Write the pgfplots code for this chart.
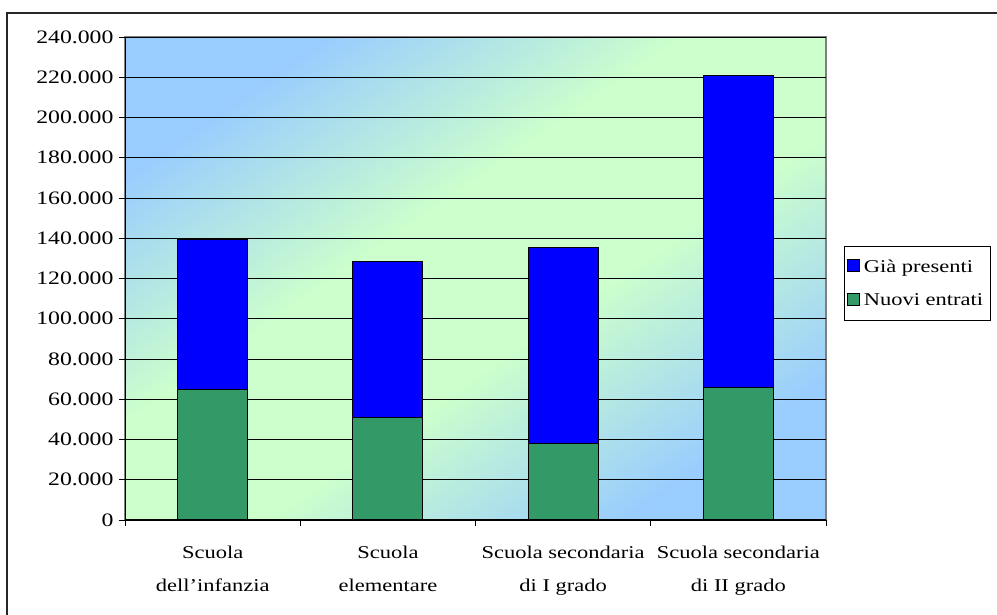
\documentclass[border=0pt]{standalone}
\usepackage{fontspec}
\setmainfont[FakeStretch=1.25]{Liberation Serif}
\usepackage{pgfplots}
\pgfplotsset{compat=1.18}
\definecolor{bgblue}{HTML}{99CCFF}
\definecolor{bggreen}{HTML}{CCFFCC}
\definecolor{barblue}{HTML}{0000FF}
\definecolor{bargreen}{HTML}{339966}
\pgfdeclareverticalshading{bgshade}{100bp}{color(0bp)=(bgblue); color(25bp)=(bgblue); color(43bp)=(bggreen); color(57bp)=(bggreen); color(75bp)=(bgblue); color(100bp)=(bgblue)}
\begin{document}
\begin{tikzpicture}[x=1pt,y=1pt]
\useasboundingbox (0,0) rectangle (997,615);
\draw[line width=1.2pt, black!85] (7,-5) -- (7,602) -- (1005,602);
\begin{axis}[
  at={(125pt,95pt)}, anchor=south west,
  scale only axis, width=701pt, height=483pt,
  ybar stacked, bar width=70pt,
  xmin=-0.5, xmax=3.5, ymin=0, ymax=240000,
  xtick={0,1,2,3},
  xticklabels={{Scuola\\dell'infanzia},{Scuola\\elementare},{Scuola secondaria\\di I grado},{Scuola secondaria\\di II grado}},
  major x tick style={draw=none},
  minor xtick={-0.5,0.5,1.5,2.5,3.5},
  ytick={0,20000,...,240000},
  tick align=outside, major tick length=6pt, minor tick length=6pt,
  tick style={black, line width=0.9pt},
  scaled y ticks=false,
  yticklabel style={/pgf/number format/.cd, fixed, 1000 sep={.}, assume math mode=true, /tikz/.cd, font=\fontsize{19}{22}\selectfont, xshift=-2pt},
  xticklabel style={font=\fontsize{18}{33}\selectfont, align=center, yshift=-16pt},
  ymajorgrids, grid style={black, line width=0.9pt},
  axis x line*=bottom, axis y line*=left,
  axis line style={-, black, line width=1pt},
  axis background/.style={shading=bgshade, shading angle=34.6, draw=gray, line width=1.2pt},
  reverse legend,
  legend cell align=left,
  legend style={at={(1.025,0.567)}, anchor=north west, draw=black, line width=0.8pt,
    font=\fontsize{18}{22}\selectfont, row sep=16pt, inner xsep=3pt, inner ysep=11pt,
    nodes={inner xsep=4pt}},
  legend image code/.code={\draw[#1, draw=black, line width=0.9pt] (1pt,-5pt) rectangle (13pt,7pt);},
]
\addplot[fill=bargreen, draw=black, line width=1.1pt] coordinates {(0,65000) (1,51000) (2,38000) (3,66000)};
\addlegendentry{Nuovi entrati}
\addplot[fill=barblue, draw=black, line width=1.1pt] coordinates {(0,74500) (1,77500) (2,97500) (3,155000)};
\addlegendentry{Già presenti}
\end{axis}
\end{tikzpicture}
\end{document}
